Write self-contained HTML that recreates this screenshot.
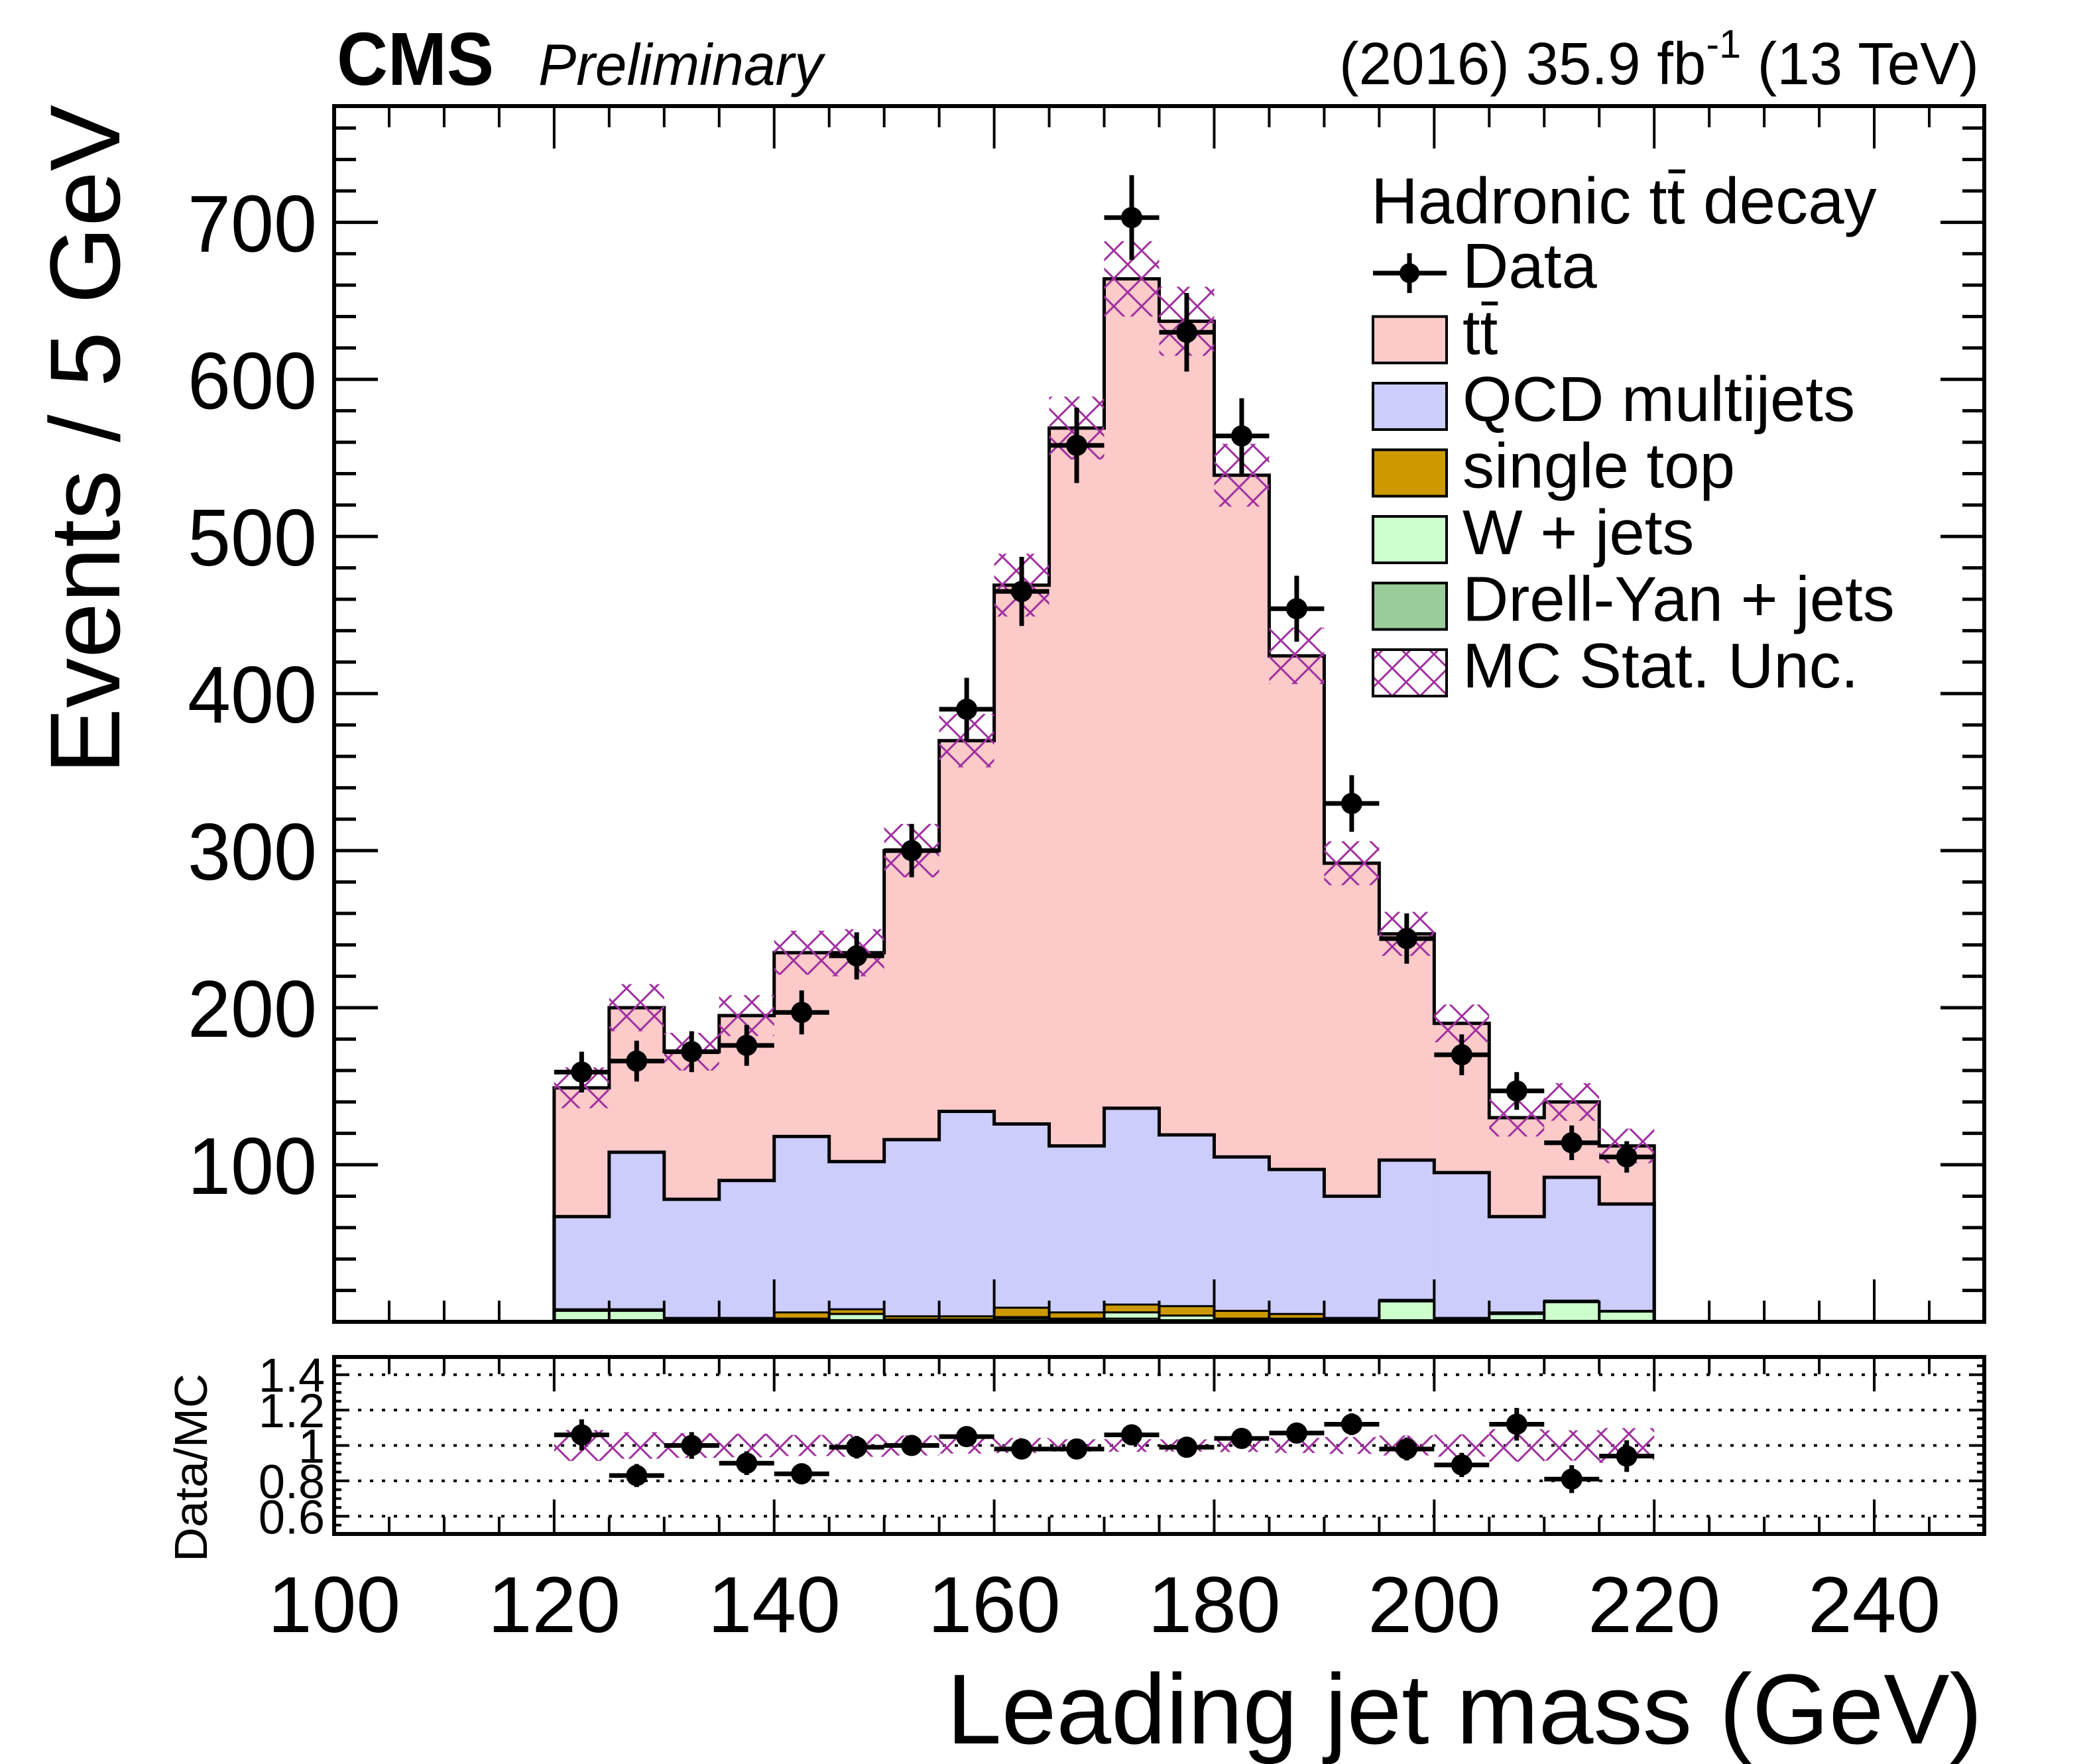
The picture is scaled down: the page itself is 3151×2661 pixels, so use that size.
<!DOCTYPE html>
<html><head><meta charset="utf-8"><style>
html,body{margin:0;padding:0;background:#fff}
svg{display:block}
text{font-family:"Liberation Sans",sans-serif;fill:#000}
</style></head><body>
<svg id="c" xmlns="http://www.w3.org/2000/svg" width="3151" height="2661" viewBox="0 0 3151 2661">
<defs>
<pattern id="hatch" patternUnits="userSpaceOnUse" width="42" height="42">
<path d="M0,0 L42,42 M42,0 L0,42" stroke="#a0309f" stroke-width="3" fill="none"/>
</pattern>
</defs>
<rect width="3151" height="2661" fill="#fff"/>
<g id="plot"></g>
<text x="508" y="128" font-size="113" font-weight="bold" textLength="237" lengthAdjust="spacingAndGlyphs">CMS</text>
<text x="812" y="128" font-size="88" font-style="italic" textLength="429" lengthAdjust="spacingAndGlyphs">Preliminary</text>
<text x="2020" y="127" font-size="90" textLength="965" lengthAdjust="spacingAndGlyphs">(2016) 35.9 fb<tspan dy="-40" font-size="60">-1</tspan><tspan dy="40"> (13 TeV)</tspan></text>
<text transform="translate(180,158) rotate(-90)" text-anchor="end" font-size="150" textLength="1010" lengthAdjust="spacingAndGlyphs">Events / 5 GeV</text>
<text x="1428" y="2630" font-size="150" textLength="1562" lengthAdjust="spacingAndGlyphs">Leading jet mass (GeV)</text>
<text transform="translate(312,2214) rotate(-90)" text-anchor="middle" font-size="70" textLength="284" lengthAdjust="spacingAndGlyphs">Data/MC</text>
</svg>
<script>
const binEdgesLow = [120,125,130,135,140,145,150,155,160,165,170,175,180,185,190,195,200,205,210,215];
const dyVals    = [1,1,0.5,0.5,1,1,0.5,0.5,2,1,2,1,1,1,0.5,1,0.5,1,0.5,0.5];
const wjetsVals = [6,6,1,1,1,4,1,1,1,1,4,3,1,1,1,12,1,4,12,6];
const stopVals  = [1,1,1,1,4,3,2,2,6,4,5,6,5,3,1,1,1,1,1,0.5];
const qcdTop    = [67,108,78,90,118,102,116,134,126,112,136,119,105,97,80,103,95,67,92,75];
const mcTotal   = [149,200,172,195,235,235,300,370,469,569,664,637,539,424,292,247,190,130,140,112];
const mcUnc     = [13,15,12,13,14,15,17,17,20,20,24,22,20,18,14,14,12,12,12,11];
const dataVals  = [159,166,172,176,197,233,300,390,465,558,703,630,564,454,330,244,170,147,114,105];
const dataErr   = [13,13,13,13,14,15,17,20,22,24,27,25,24,21,18,16,13,12,11,10];
const ratioVals = [1.06,0.83,1.00,0.90,0.84,0.99,1.00,1.05,0.98,0.98,1.06,0.99,1.04,1.07,1.12,0.98,0.89,1.12,0.81,0.94];
const xTickLabels = ["100","120","140","160","180","200","220","240"];
const yTickLabels = ["100","200","300","400","500","600","700"];
const rTickLabels = ["0.6","0.8","1","1.2","1.4"];
const binW = 5;

const NS="http://www.w3.org/2000/svg";
const g=document.getElementById('plot');
const L=504,R=2993,T=160,B=1994,RT=2047,RB=2314;
const X0=100,X1=250,Y0=0,Y1=774,R0=0.5,R1=1.5;
const sx=v=>L+(v-X0)/(X1-X0)*(R-L);
const sy=v=>B-(v-Y0)/(Y1-Y0)*(B-T);
const sr=v=>RB-(v-R0)/(R1-R0)*(RB-RT);
function mk(tag,at,parent){const e=document.createElementNS(NS,tag);for(const k in at)e.setAttribute(k,at[k]);(parent||g).appendChild(e);return e;}

const n=binEdgesLow.length;
for(let i=0;i<n;i++){
  const x0=sx(binEdgesLow[i]),x1=sx(binEdgesLow[i]+binW),w=x1-x0;
  const b1=dyVals[i],b2=b1+wjetsVals[i],b3=b2+stopVals[i];
  let e;
  e=mk('rect',{x:x0,y:sy(mcTotal[i]),width:w+0.5,height:sy(qcdTop[i])-sy(mcTotal[i]),fill:'#fdcaca'});
  
  
  e=mk('rect',{x:x0,y:sy(qcdTop[i]),width:w+0.5,height:sy(b3)-sy(qcdTop[i]),fill:'#cccdfc'});
  
  
  e=mk('rect',{x:x0,y:sy(b3),width:w,height:sy(b2)-sy(b3),fill:'#cc9900',stroke:'#000','stroke-width':3});
  
  
  e=mk('rect',{x:x0,y:sy(b2),width:w,height:sy(b1)-sy(b2),fill:'#ccffcc',stroke:'#000','stroke-width':3});
  
  
  e=mk('rect',{x:x0,y:sy(b1),width:w,height:sy(0)-sy(b1),fill:'#99cc99',stroke:'#000','stroke-width':3});
  
  
}
function stepPath(arr){
  let d='M'+sx(binEdgesLow[0])+','+sy(0);
  for(let i=0;i<n;i++){d+=' L'+sx(binEdgesLow[i])+','+sy(arr[i])+' L'+sx(binEdgesLow[i]+binW)+','+sy(arr[i]);}
  d+=' L'+sx(binEdgesLow[n-1]+binW)+','+sy(0);return d;
}
let p=mk('path',{d:stepPath(qcdTop),fill:'none',stroke:'#000','stroke-width':5});


p=mk('path',{d:stepPath(mcTotal),fill:'none',stroke:'#000','stroke-width':5});


for(let i=0;i<n;i++){
  const x0=sx(binEdgesLow[i]),x1=sx(binEdgesLow[i]+binW);
  const h=mk('rect',{x:x0,y:sy(mcTotal[i]+mcUnc[i]),width:x1-x0,height:sy(mcTotal[i]-mcUnc[i])-sy(mcTotal[i]+mcUnc[i]),fill:'url(#hatch)'});
  
  
}
for(let i=0;i<n;i++){
  const xc=sx(binEdgesLow[i]+binW/2),yc=sy(dataVals[i]);
  const gg=mk('g',{});
  
  
  mk('line',{x1:sx(binEdgesLow[i]),x2:sx(binEdgesLow[i]+binW),y1:yc,y2:yc,stroke:'#000','stroke-width':7},gg);
  mk('line',{x1:xc,x2:xc,y1:sy(dataVals[i]+dataErr[i]),y2:sy(dataVals[i]-dataErr[i]),stroke:'#000','stroke-width':7},gg);
  mk('circle',{cx:xc,cy:yc,r:16,fill:'#000'},gg);
}
let f=mk('rect',{x:L,y:T,width:R-L,height:B-T,fill:'none',stroke:'#000','stroke-width':6});


f=mk('rect',{x:L,y:RT,width:R-L,height:RB-RT,fill:'none',stroke:'#000','stroke-width':6});


for(let v=X0;v<=X1;v+=5){
  const x=sx(v),maj=(v%20===0);
  const lm=maj?64:32, lr=maj?52:26;
  mk('line',{x1:x,x2:x,y1:B,y2:B-lm,stroke:'#000','stroke-width':4});
  mk('line',{x1:x,x2:x,y1:T,y2:T+lm,stroke:'#000','stroke-width':4});
  mk('line',{x1:x,x2:x,y1:RB,y2:RB-lr,stroke:'#000','stroke-width':4});
  mk('line',{x1:x,x2:x,y1:RT,y2:RT+lr,stroke:'#000','stroke-width':4});
}
xTickLabels.forEach(s=>{const t=mk('text',{x:sx(+s),y:2462,'text-anchor':'middle','font-size':120});t.textContent=s;
  
  });
for(let v=20;v<Y1;v+=20){
  const y=sy(v),maj=(v%100===0),l=maj?66:33;
  mk('line',{x1:L,x2:L+l,y1:y,y2:y,stroke:'#000','stroke-width':5});
  mk('line',{x1:R,x2:R-l,y1:y,y2:y,stroke:'#000','stroke-width':5});
}
yTickLabels.forEach(s=>{const t=mk('text',{x:478,y:sy(+s)+44,'text-anchor':'end','font-size':122,textLength:195,lengthAdjust:'spacingAndGlyphs'});t.textContent=s;
  
  });
rTickLabels.forEach(s=>{const y=sr(+s);
  mk('line',{x1:L,x2:R,y1:y,y2:y,stroke:'#000','stroke-width':4,'stroke-dasharray':'5,13'});
  const t=mk('text',{x:490,y:y+26,'text-anchor':'end','font-size':72});t.textContent=s;
  
  });
for(let v=0.55;v<1.5;v+=0.05){const y=sr(v);const l=(Math.round(v*100)%20===0)?22:11;
  mk('line',{x1:L,x2:L+l,y1:y,y2:y,stroke:'#000','stroke-width':4});
  mk('line',{x1:R,x2:R-l,y1:y,y2:y,stroke:'#000','stroke-width':4});}
for(let i=0;i<n;i++){
  const u=mcUnc[i]/mcTotal[i];
  const x0=sx(binEdgesLow[i]),x1=sx(binEdgesLow[i]+binW);
  const h=mk('rect',{x:x0,y:sr(1+u),width:x1-x0,height:sr(1-u)-sr(1+u),fill:'url(#hatch)'});
  
  
}
for(let i=0;i<n;i++){
  const xc=sx(binEdgesLow[i]+binW/2),yc=sr(ratioVals[i]);
  const e=dataErr[i]/mcTotal[i];
  const gg=mk('g',{});
  
  
  mk('line',{x1:sx(binEdgesLow[i]),x2:sx(binEdgesLow[i]+binW),y1:yc,y2:yc,stroke:'#000','stroke-width':7},gg);
  mk('line',{x1:xc,x2:xc,y1:sr(ratioVals[i]+e),y2:sr(ratioVals[i]-e),stroke:'#000','stroke-width':7},gg);
  mk('circle',{cx:xc,cy:yc,r:16,fill:'#000'},gg);
}
// overline helper: bar over character index k of text element
function overline(t,k,fs,parent){
  const x0=+t.getAttribute('x')+t.getSubStringLength(0,k);
  const w=t.getSubStringLength(k,1);
  const y=+t.getAttribute('y')-fs*0.8;
  mk('line',{x1:x0+fs*0.02,x2:x0+w,y1:y,y2:y,stroke:'#000','stroke-width':fs*0.06},parent);
}
const lg=mk('g',{});


let lt=mk('text',{x:2068,y:337,'font-size':98},lg);


lt.textContent='Hadronic tt decay';
overline(lt,10,98,lg);
const legNames=['Data','tt','QCD multijets','single top','W + jets','Drell-Yan + jets','MC Stat. Unc.'];
const legFills=[null,'#fdcaca','#cccdfc','#cc9900','#ccffcc','#99cc99','url(#hatch)'];
legNames.forEach((s,i)=>{
  const cy=412+i*100.5;
  const ge=mk('g',{},lg);
  
  
  if(i===0){
    mk('line',{x1:2071,x2:2182,y1:cy,y2:cy,stroke:'#000','stroke-width':7},ge);
    mk('line',{x1:2126,x2:2126,y1:cy-30,y2:cy+30,stroke:'#000','stroke-width':7},ge);
    mk('circle',{cx:2126,cy:cy,r:15,fill:'#000'},ge);
  } else {
    mk('rect',{x:2071,y:cy-35,width:111,height:70,fill:legFills[i],stroke:'#000','stroke-width':4},ge);
  }
  const t=mk('text',{x:2206,y:cy+22,'font-size':96},ge);
  t.textContent=s;
  if(i===1) overline(t,1,96,ge);
});
</script>
</body></html>
